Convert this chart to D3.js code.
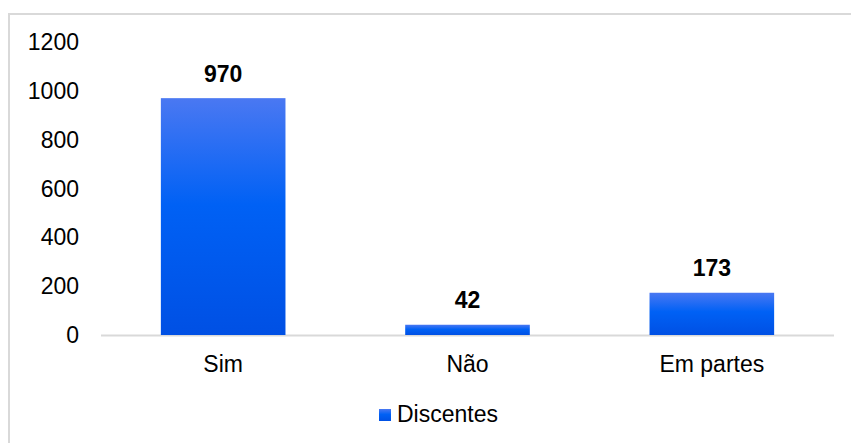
<!DOCTYPE html>
<html>
<head>
<meta charset="utf-8">
<script src="https://cdn.jsdelivr.net/npm/d3@7"></script>
<style>
  html, body { margin: 0; padding: 0; background: #fff; }
  svg { display: block; font-family: "Liberation Sans", Arial, sans-serif; }
</style>
</head>
<body>
<svg id="chart" width="851" height="443"></svg>
<script>
const categories = ['Sim', 'Não', 'Em partes'];
const values = [970, 42, 173];
const yTicks = [0, 200, 400, 600, 800, 1000, 1200];
const seriesName = 'Discentes';

const fontSize = 23;
const svg = d3.select('#chart');

// outer frame, runs off the right and bottom edges
svg.append('rect')
  .attr('x', 9)
  .attr('y', 14)
  .attr('width', 860)
  .attr('height', 460)
  .attr('fill', 'none')
  .attr('stroke', '#d9d9d9')
  .attr('stroke-width', 2);

// gradient for the bars
const grad = svg.append('defs').append('linearGradient')
  .attr('id', 'barGrad')
  .attr('x1', 0).attr('y1', 0).attr('x2', 0).attr('y2', 1);
grad.append('stop').attr('offset', '0%').attr('stop-color', '#4a78f2');
grad.append('stop').attr('offset', '45%').attr('stop-color', '#0061f5');
grad.append('stop').attr('offset', '100%').attr('stop-color', '#0050e4');

const x = d3.scaleBand()
  .domain(categories)
  .range([101, 834])
  .paddingInner(0.49)
  .paddingOuter(0.245);

const y = d3.scaleLinear()
  .domain([0, 1200])
  .range([335, 42]);

// baseline
svg.append('line')
  .attr('x1', 101)
  .attr('x2', 834)
  .attr('y1', y(0) + 0.5)
  .attr('y2', y(0) + 0.5)
  .attr('stroke', '#d9d9d9')
  .attr('stroke-width', 2);

// y tick labels
svg.append('g')
  .selectAll('text')
  .data(yTicks)
  .join('text')
  .attr('x', 79)
  .attr('y', d => y(d) + 8)
  .attr('text-anchor', 'end')
  .attr('font-size', fontSize)
  .attr('fill', '#000')
  .text(d => d);

// bars
svg.append('g')
  .selectAll('rect')
  .data(values)
  .join('rect')
  .attr('x', (d, i) => x(categories[i]))
  .attr('y', d => y(d))
  .attr('width', x.bandwidth())
  .attr('height', d => y(0) - y(d))
  .attr('fill', 'url(#barGrad)');

// value labels
svg.append('g')
  .selectAll('text')
  .data(values)
  .join('text')
  .attr('x', (d, i) => x(categories[i]) + x.bandwidth() / 2)
  .attr('y', d => y(d) - 16.5)
  .attr('text-anchor', 'middle')
  .attr('font-size', fontSize)
  .attr('font-weight', 'bold')
  .attr('fill', '#000')
  .text(d => d);

// category labels
svg.append('g')
  .selectAll('text')
  .data(categories)
  .join('text')
  .attr('x', d => x(d) + x.bandwidth() / 2)
  .attr('y', 372)
  .attr('text-anchor', 'middle')
  .attr('font-size', fontSize)
  .attr('fill', '#000')
  .text(d => d);

// legend
const legend = svg.append('g').attr('transform', 'translate(379,409)');
legend.append('rect')
  .attr('width', 12)
  .attr('height', 12)
  .attr('fill', 'url(#barGrad)');
legend.append('text')
  .attr('x', 18)
  .attr('y', 13)
  .attr('font-size', fontSize)
  .attr('fill', '#000')
  .text(seriesName);
</script>
</body>
</html>
